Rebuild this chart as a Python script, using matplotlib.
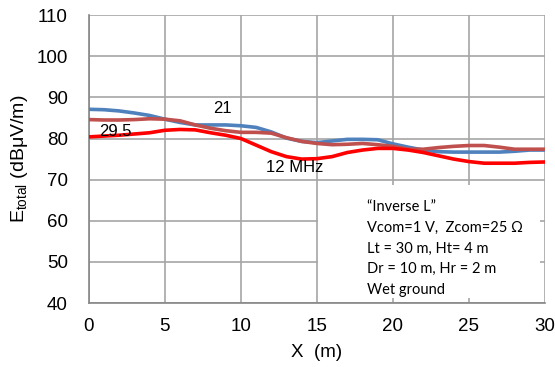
import matplotlib
matplotlib.use('Agg')
import matplotlib.pyplot as plt
from matplotlib.patches import Rectangle

plt.rcParams['font.family'] = ['Liberation Sans', 'DejaVu Sans']
plt.rcParams['mathtext.fontset'] = 'custom'
plt.rcParams['mathtext.rm'] = 'Liberation Sans'

# distancia X (m)
x = list(range(0, 31))

# 21 MHz (azul)
e21 = [87.1, 87.0, 86.7, 86.2, 85.6, 84.7, 83.9, 83.3, 83.3, 83.3, 83.1,
       82.7, 81.6, 80.1, 79.3, 79.0, 79.4, 79.8, 79.8, 79.7, 78.7,
       77.9, 77.2, 76.8, 76.7, 76.7, 76.7, 76.7, 76.9, 77.2, 77.2]
# 29.5 MHz (rojo claro)
e295 = [84.6, 84.5, 84.5, 84.6, 84.8, 84.7, 84.3, 83.3, 82.5, 81.9, 81.5,
        81.5, 81.3, 80.2, 79.3, 78.8, 78.5, 78.6, 78.8, 78.5, 78.1,
        77.4, 77.4, 77.8, 78.1, 78.3, 78.3, 77.9, 77.4, 77.4, 77.4]
# 12 MHz (rojo)
e12 = [80.4, 80.6, 80.8, 81.1, 81.4, 82.0, 82.2, 82.1, 81.4, 80.8, 80.0,
       78.4, 76.8, 75.6, 75.0, 75.1, 75.6, 76.6, 77.2, 77.6, 77.6,
       77.2, 76.6, 75.8, 75.0, 74.4, 74.0, 74.0, 74.0, 74.2, 74.3]

fig = plt.figure(figsize=(5.55, 3.67), dpi=100)
ax = fig.add_axes([0.160, 0.174, 0.822, 0.785])

ax.plot(x, e21, color='#4f81bd', lw=2.6, zorder=3)
ax.plot(x, e295, color='#c0504d', lw=2.6, zorder=4)
ax.plot(x, e12, color='#ff0000', lw=2.6, zorder=5)

ax.set_xlim(0, 30)
ax.set_ylim(40, 110)
ax.set_xticks(range(0, 31, 5))
ax.set_yticks(range(40, 111, 10))
ax.grid(True, color='#a6a6a6', lw=1.2)
ax.set_axisbelow(True)
for s in ['top', 'right']:
    ax.spines[s].set_visible(False)
for s in ['left', 'bottom']:
    ax.spines[s].set_color('#868686')
    ax.spines[s].set_linewidth(1.2)
    ax.spines[s].set_zorder(2.5)
ax.tick_params(axis='both', labelsize=13.5, length=0)
ax.tick_params(axis='x', pad=11)
ax.tick_params(axis='y', pad=15)

ax.set_xlabel('X  (m)', fontsize=13.5, labelpad=6)
ax.set_ylabel(r'E$_{\mathrm{total}}$ (dBμV/m)', fontsize=14, labelpad=5)

# etiquetas de las curvas
ax.text(8.8, 87.2, '21', fontsize=12, ha='center', va='center', zorder=6)
ax.text(0.7, 81.6, '29.5', fontsize=12, ha='left', va='center', zorder=6)
ax.text(13.55, 73.0, '12 MHz', fontsize=12, ha='center', va='center', zorder=6)

# cuadro blanco del texto (tapa la rejilla)
ax.add_patch(Rectangle((15.08, 41.3), 29.65 - 15.08, 68.7 - 41.3,
                       facecolor='white', edgecolor='none', zorder=2))

info = ('\u201cInverse L\u201d\n'
        'Vcom=1 V,  Zcom=25 \u03a9\n'
        'Lt = 30 m, Ht= 4 m\n'
        'Dr = 10 m, Hr = 2 m\n'
        'Wet ground')
ax.text(18.3, 65.1, info, fontsize=10.5, family=['Lato', 'DejaVu Sans'],
        ha='left', va='top', linespacing=1.62, zorder=6)

fig.savefig('out.png', dpi=100)
